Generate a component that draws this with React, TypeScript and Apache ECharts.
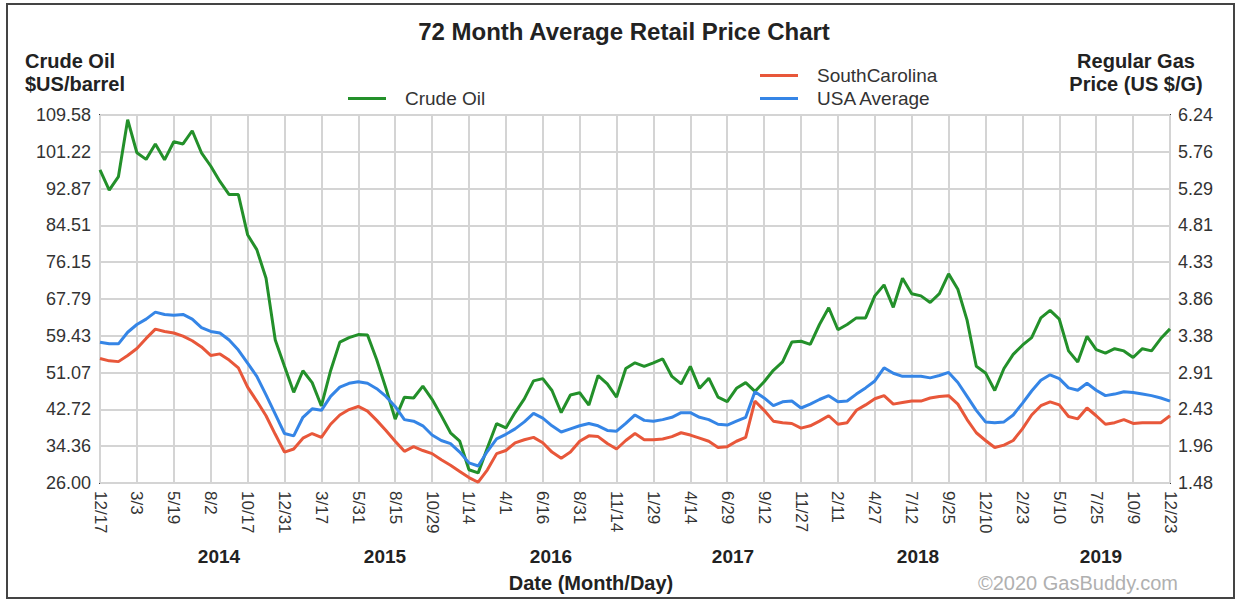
import React, { useEffect, useRef } from "react";
import * as echarts from "echarts";

const FONT = "'Liberation Sans', Arial, Helvetica, sans-serif";

// x-axis tick labels (Month/Day), one every ~11 weeks
const dateTicks = ["12/17","3/3","5/19","8/2","10/17","12/31","3/17","5/31","8/15","10/29","1/14","4/1","6/16","8/31","11/14","1/29","4/14","6/29","9/12","11/27","2/11","4/27","7/12","9/25","12/10","2/23","5/10","7/25","10/9","12/23"];
const pointsPerTick = 4;
const oilTicks = ["26.00","34.36","42.72","51.07","59.43","67.79","76.15","84.51","92.87","101.22","109.58"];
const gasTicks = ["1.48","1.96","2.43","2.91","3.38","3.86","4.33","4.81","5.29","5.76","6.24"];
const oilRange = [26, 109.58];
const gasRange = [1.48, 6.24];
const years = ["2014","2015","2016","2017","2018","2019"];

// Crude oil $US/barrel, 4 samples per tick interval
const crudeOil = [
  97.1, 92.5, 95.6, 108.5,
  101, 99.5, 103, 99.4,
  103.5, 103, 106, 101,
  98, 94.5, 91.5, 91.5,
  82.4, 79, 72.5, 58.5,
  52.5, 46.6, 51.5, 48.8,
  43.5, 51.5, 58, 59,
  59.7, 59.6, 54, 47.5,
  40.5, 45.5, 45.3, 48,
  45, 41.3, 37.4, 35.5,
  29, 28.3, 34, 39.5,
  38.5, 42, 45.1, 49.2,
  49.7, 47, 42, 46,
  46.5, 43.7, 50.4, 48.5,
  45.5, 52, 53.3, 52.5,
  53.3, 54.2, 50.2, 48.5,
  52.5, 47.5, 49.8, 45.5,
  44.5, 47.5, 48.8, 46.8,
  49, 51.6, 53.5, 58,
  58.2, 57.5, 62, 65.8,
  60.8, 62, 63.5, 63.5,
  68.5, 71, 65.9, 72.5,
  69, 68.5, 67, 69,
  73.5, 70, 63, 52.5,
  51, 47, 52, 55.2,
  57.3, 59, 63.5, 65.2,
  63.2, 56, 53.5, 59.3,
  56.3, 55.5, 56.5, 56,
  54.5, 56.5, 56, 58.8,
  61,
];

// South Carolina regular gas, US $/G
const southCarolina = [
  3.09, 3.06, 3.05, 3.13,
  3.22, 3.35, 3.47, 3.44,
  3.42, 3.38, 3.32, 3.24,
  3.13, 3.15, 3.07, 2.97,
  2.72, 2.54, 2.35, 2.11,
  1.88, 1.92, 2.06, 2.12,
  2.07, 2.24, 2.36, 2.43,
  2.47, 2.41, 2.29, 2.16,
  2.02, 1.89, 1.95, 1.90,
  1.86, 1.78, 1.71, 1.63,
  1.55, 1.49, 1.65, 1.86,
  1.90, 2.00, 2.04, 2.07,
  2.00, 1.88, 1.80, 1.88,
  2.02, 2.09, 2.08, 1.99,
  1.92, 2.03, 2.12, 2.04,
  2.04, 2.05, 2.08, 2.13,
  2.10, 2.06, 2.02, 1.94,
  1.95, 2.02, 2.07, 2.54,
  2.42, 2.28, 2.26, 2.25,
  2.19, 2.22, 2.28, 2.35,
  2.24, 2.26, 2.42, 2.49,
  2.57, 2.61, 2.50, 2.52,
  2.54, 2.54, 2.58, 2.60,
  2.61, 2.50, 2.30, 2.13,
  2.03, 1.94, 1.97, 2.03,
  2.18, 2.36, 2.48, 2.53,
  2.49, 2.34, 2.31, 2.45,
  2.35, 2.24, 2.26, 2.30,
  2.25, 2.26, 2.26, 2.26,
  2.35,
];

// USA average regular gas, US $/G
const usaAverage = [
  3.30, 3.28, 3.28, 3.43,
  3.53, 3.60, 3.69, 3.66,
  3.65, 3.66, 3.60, 3.49,
  3.44, 3.42, 3.33, 3.20,
  3.03, 2.86, 2.62, 2.37,
  2.12, 2.09, 2.33, 2.44,
  2.42, 2.60, 2.72, 2.77,
  2.79, 2.77, 2.70, 2.60,
  2.47, 2.30, 2.28, 2.22,
  2.10, 2.03, 1.99, 1.88,
  1.74, 1.70, 1.89, 2.05,
  2.11, 2.18, 2.27, 2.38,
  2.32, 2.22, 2.14, 2.18,
  2.22, 2.25, 2.22, 2.16,
  2.15, 2.25, 2.36, 2.29,
  2.28, 2.30, 2.33, 2.39,
  2.39, 2.33, 2.30, 2.24,
  2.23, 2.28, 2.33, 2.66,
  2.58, 2.48, 2.53, 2.54,
  2.45, 2.50, 2.56, 2.61,
  2.53, 2.54, 2.63, 2.71,
  2.80, 2.97, 2.90, 2.86,
  2.86, 2.86, 2.84, 2.87,
  2.91, 2.78, 2.60, 2.42,
  2.27, 2.26, 2.27, 2.36,
  2.51, 2.67, 2.81, 2.88,
  2.83, 2.71, 2.68, 2.77,
  2.68, 2.61, 2.63, 2.66,
  2.65, 2.63, 2.61, 2.58,
  2.54,
];

const yearX = [219, 385, 551, 733, 918, 1101];

export default function App() {
  const ref = useRef<HTMLDivElement>(null);
  useEffect(() => {
    if (!ref.current) return;
    const chart = echarts.init(ref.current, null, { renderer: "svg" });
    const toPairs = (arr: number[]) => arr.map((v, i) => [i, v]);
    const maxX = (dateTicks.length - 1) * pointsPerTick;
    const labelStyle = { fontFamily: FONT, color: "#333", fontSize: 18 };
    const gridLine = { color: "#d4d4d4", width: 2 };
    chart.setOption({
      animation: false,
      backgroundColor: "#fff",
      grid: {
        left: 100, top: 115, width: 1070, height: 368,
        show: true, borderColor: "#3a3a3a", borderWidth: 2, backgroundColor: "transparent",
      },
      legend: [
        {
          data: ["Crude Oil"], left: 348, top: 89, padding: 0,
          icon: "rect", itemWidth: 38, itemHeight: 3,
          textStyle: { fontFamily: FONT, fontSize: 19, color: "#333", padding: [0, 0, 0, 14] },
        },
        {
          data: ["SouthCarolina", "USA Average"], orient: "vertical", left: 760, top: 66, padding: 0,
          icon: "rect", itemWidth: 38, itemHeight: 3, itemGap: 4,
          textStyle: { fontFamily: FONT, fontSize: 19, color: "#333", padding: [0, 0, 0, 14] },
        },
      ],
      xAxis: {
        type: "value", min: 0, max: maxX, interval: pointsPerTick,
        axisLine: { show: false }, axisTick: { show: false },
        splitLine: { show: true, lineStyle: gridLine },
        axisLabel: {
          ...labelStyle, fontSize: 17, rotate: -90, margin: 8,
          formatter: (v: number) => dateTicks[Math.round(v / pointsPerTick)] ?? "",
        },
      },
      yAxis: [
        {
          type: "value", position: "left", min: 0, max: oilTicks.length - 1, interval: 1,
          axisLine: { show: false }, axisTick: { show: false },
          splitLine: { show: true, lineStyle: gridLine },
          axisLabel: { ...labelStyle, margin: 9, formatter: (v: number) => oilTicks[v] ?? "" },
        },
        {
          type: "value", position: "right", min: 0, max: gasTicks.length - 1, interval: 1,
          axisLine: { show: false }, axisTick: { show: false }, splitLine: { show: false },
          axisLabel: { ...labelStyle, margin: 8, formatter: (v: number) => gasTicks[v] ?? "" },
        },
        { type: "value", min: oilRange[0], max: oilRange[1], show: false, splitLine: { show: false } },
        { type: "value", min: gasRange[0], max: gasRange[1], show: false, splitLine: { show: false } },
      ],
      series: [
        {
          name: "Crude Oil", type: "line", yAxisIndex: 2, data: toPairs(crudeOil),
          showSymbol: false, color: "#23902a", lineStyle: { width: 3, color: "#23902a" },
        },
        {
          name: "SouthCarolina", type: "line", yAxisIndex: 3, data: toPairs(southCarolina),
          showSymbol: false, color: "#e8573a", lineStyle: { width: 3, color: "#e8573a" },
        },
        {
          name: "USA Average", type: "line", yAxisIndex: 3, data: toPairs(usaAverage),
          showSymbol: false, color: "#3585e6", lineStyle: { width: 3, color: "#3585e6" },
        },
      ],
      graphic: [
        {
          type: "rect", shape: { x: 7, y: 4, width: 1227, height: 594 }, silent: true,
          style: { fill: "none", stroke: "#444", lineWidth: 2 },
        },
        {
          type: "text", x: 624, y: 31,
          style: { text: "72 Month Average Retail Price Chart", font: `bold 24px ${FONT}`, fill: "#222", textAlign: "center", textVerticalAlign: "middle" },
        },
        {
          type: "text", x: 25, y: 61,
          style: { text: "Crude Oil", font: `bold 20px ${FONT}`, fill: "#222", textAlign: "left", textVerticalAlign: "middle" },
        },
        {
          type: "text", x: 25, y: 84,
          style: { text: "$US/barrel", font: `bold 20px ${FONT}`, fill: "#222", textAlign: "left", textVerticalAlign: "middle" },
        },
        {
          type: "text", x: 1136, y: 61,
          style: { text: "Regular Gas", font: `bold 20px ${FONT}`, fill: "#222", textAlign: "center", textVerticalAlign: "middle" },
        },
        {
          type: "text", x: 1136, y: 84,
          style: { text: "Price (US $/G)", font: `bold 20px ${FONT}`, fill: "#222", textAlign: "center", textVerticalAlign: "middle" },
        },
        ...years.map((y, i) => ({
          type: "text", x: yearX[i], y: 556,
          style: { text: y, font: `bold 19px ${FONT}`, fill: "#222", textAlign: "center", textVerticalAlign: "middle" },
        })),
        {
          type: "text", x: 591, y: 583,
          style: { text: "Date (Month/Day)", font: `bold 20px ${FONT}`, fill: "#222", textAlign: "center", textVerticalAlign: "middle" },
        },
        {
          type: "text", x: 1078, y: 583,
          style: { text: "©2020 GasBuddy.com", font: `20px ${FONT}`, fill: "#b0b0b0", textAlign: "center", textVerticalAlign: "middle" },
        },
      ],
    });
    return () => chart.dispose();
  }, []);
  return (
    <div
      ref={ref}
      style={{ position: "fixed", left: 0, top: 0, width: 1241, height: 603, background: "#fff" }}
    />
  );
}
